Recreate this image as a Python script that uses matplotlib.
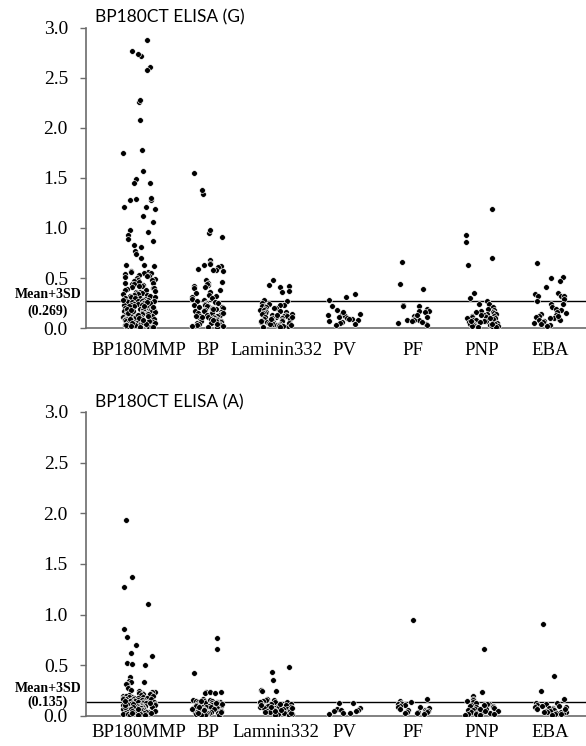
import matplotlib.pyplot as plt
import numpy as np

plt.rcParams["font.family"] = ["Liberation Serif", "DejaVu Serif"]

categories_g = ["BP180MMP", "BP", "Laminin332", "PV", "PF", "PNP", "EBA"]
categories_a = ["BP180MMP", "BP", "Lamnin332", "PV", "PF", "PNP", "EBA"]
cutoff_g = 0.269
cutoff_a = 0.135

# ---- BP180CT ELISA (G) values ----
g_bp180mmp = [
    2.88, 2.72, 2.74, 2.77, 2.61, 2.58, 2.26, 2.28, 2.08, 1.75, 1.78, 1.57,
    1.49, 1.45, 1.45, 1.29, 1.28, 1.19, 1.21, 1.28, 1.30, 1.21, 1.12, 1.06,
    0.98, 0.96, 0.93, 0.87, 0.89, 0.83, 0.81, 0.77, 0.74, 0.70, 0.63, 0.63,
    0.62, 0.57, 0.56, 0.56,
    0.55, 0.55, 0.54, 0.53, 0.52, 0.52, 0.51, 0.50, 0.49, 0.48, 0.48, 0.47,
    0.46, 0.45, 0.45, 0.44, 0.44, 0.43, 0.42, 0.42, 0.41, 0.40, 0.40, 0.39,
    0.38, 0.38, 0.37, 0.36, 0.36, 0.35, 0.35, 0.34, 0.34, 0.33, 0.33, 0.32,
    0.32, 0.31, 0.31, 0.30, 0.30, 0.30,
    0.29, 0.285, 0.28, 0.28, 0.275, 0.27, 0.27, 0.265, 0.26, 0.26, 0.255,
    0.25, 0.25, 0.245, 0.24, 0.24, 0.235, 0.23, 0.23, 0.225, 0.22, 0.22,
    0.215, 0.21, 0.21, 0.205, 0.20, 0.20, 0.195, 0.19, 0.19, 0.185, 0.18,
    0.18, 0.175, 0.17, 0.17, 0.165, 0.16, 0.16, 0.155, 0.15, 0.15, 0.145,
    0.14, 0.14, 0.135, 0.13, 0.13, 0.125, 0.12, 0.12, 0.115, 0.11, 0.11,
    0.105, 0.10, 0.10, 0.095, 0.09, 0.09, 0.085, 0.08, 0.08, 0.075, 0.07,
    0.07, 0.065, 0.06, 0.06, 0.055, 0.05, 0.05, 0.045, 0.04, 0.04, 0.035,
    0.03, 0.03, 0.025, 0.02, 0.02, 0.015, 0.01, 0.01, 0.005,
    0.27, 0.23, 0.19, 0.15, 0.11, 0.07, 0.03, 0.25, 0.21, 0.17, 0.13, 0.09,
    0.05, 0.02, 0.26, 0.22, 0.18, 0.14, 0.10, 0.06, 0.04, 0.28, 0.12, 0.08,
]
g_bp = [
    1.55, 1.34, 1.38, 0.91, 0.95, 0.98, 0.68, 0.65, 0.64, 0.63, 0.62, 0.61,
    0.59, 0.58, 0.58, 0.57, 0.48, 0.46, 0.45, 0.43, 0.44, 0.42, 0.40, 0.41,
    0.38, 0.36, 0.35, 0.33, 0.32, 0.31, 0.30, 0.29, 0.28,
    0.27, 0.265, 0.26, 0.25, 0.25, 0.245, 0.24, 0.23, 0.23, 0.225, 0.22,
    0.21, 0.21, 0.20, 0.20, 0.19, 0.19, 0.185, 0.18, 0.17, 0.17, 0.165,
    0.16, 0.15, 0.15, 0.145, 0.14, 0.13, 0.13, 0.125, 0.12, 0.11, 0.11,
    0.105, 0.10, 0.09, 0.09, 0.085, 0.08, 0.07, 0.07, 0.065, 0.06, 0.05,
    0.05, 0.045, 0.04, 0.03, 0.03, 0.025, 0.02, 0.01, 0.01, 0.19, 0.15,
    0.11, 0.07, 0.04, 0.12, 0.08,
]
g_laminin332 = [
    0.48, 0.43, 0.42, 0.41, 0.37, 0.36, 0.28, 0.27, 0.25,
    0.24, 0.235, 0.23, 0.22, 0.22, 0.21, 0.20, 0.20, 0.19, 0.18, 0.18,
    0.17, 0.16, 0.16, 0.155, 0.15, 0.14, 0.14, 0.135, 0.13, 0.12, 0.12,
    0.115, 0.11, 0.10, 0.10, 0.095, 0.09, 0.085, 0.08, 0.08, 0.075, 0.07,
    0.065, 0.06, 0.06, 0.055, 0.05, 0.045, 0.04, 0.04, 0.035, 0.03, 0.025,
    0.02, 0.02, 0.015, 0.01, 0.13, 0.11, 0.09, 0.07, 0.05, 0.03,
]
g_pv = [0.34, 0.31, 0.28, 0.22, 0.18, 0.14, 0.14, 0.13, 0.12, 0.10, 0.09,
        0.09, 0.07, 0.06, 0.05, 0.03, 0.16, 0.11, 0.08, 0.04]
g_pf = [0.66, 0.44, 0.39, 0.23, 0.22, 0.22, 0.19, 0.17, 0.17, 0.16, 0.12,
        0.11, 0.09, 0.08, 0.08, 0.08, 0.07, 0.05, 0.04, 0.03, 0.13, 0.06]
g_pnp = [
    1.19, 0.93, 0.86, 0.70, 0.63, 0.35, 0.30, 0.27, 0.24, 0.24, 0.21, 0.19,
    0.18, 0.17, 0.16, 0.16, 0.15, 0.14, 0.14, 0.13, 0.12, 0.12, 0.11, 0.11,
    0.10, 0.10, 0.09, 0.09, 0.08, 0.08, 0.07, 0.07, 0.06, 0.06, 0.055, 0.05,
    0.05, 0.045, 0.04, 0.04, 0.035, 0.03, 0.03, 0.025, 0.02, 0.02, 0.015,
    0.01, 0.13, 0.07, 0.04, 0.10,
]
g_eba = [
    0.65, 0.51, 0.50, 0.47, 0.41, 0.35, 0.34, 0.32, 0.32, 0.32, 0.29, 0.27,
    0.24, 0.24, 0.21, 0.19, 0.18, 0.16, 0.15, 0.14, 0.13, 0.12, 0.11, 0.10,
    0.09, 0.08, 0.08, 0.07, 0.06, 0.05, 0.04, 0.03, 0.02, 0.10, 0.12,
]

# ---- BP180CT ELISA (A) values ----
a_bp180mmp = [
    1.93, 1.37, 1.27, 1.11, 0.86, 0.78, 0.70, 0.62, 0.59, 0.52, 0.51, 0.50,
    0.38, 0.35, 0.34, 0.34, 0.32, 0.32, 0.28, 0.23, 0.25, 0.26, 0.24, 0.22,
    0.24, 0.23, 0.22, 0.22, 0.21, 0.21, 0.20, 0.20, 0.20, 0.19, 0.19, 0.19,
    0.18, 0.18, 0.18, 0.175, 0.17, 0.17, 0.165, 0.16, 0.16, 0.16, 0.155,
    0.15, 0.15, 0.15, 0.145, 0.14, 0.14, 0.14, 0.135, 0.13, 0.13, 0.13,
    0.125, 0.12, 0.12, 0.12, 0.115, 0.11, 0.11, 0.11, 0.105, 0.10, 0.10,
    0.10, 0.095, 0.09, 0.09, 0.09, 0.085, 0.08, 0.08, 0.08, 0.075, 0.07,
    0.07, 0.07, 0.065, 0.06, 0.06, 0.06, 0.055, 0.05, 0.05, 0.05, 0.045,
    0.04, 0.04, 0.04, 0.035, 0.03, 0.03, 0.03, 0.025, 0.02, 0.02, 0.02,
    0.015, 0.01, 0.01, 0.005, 0.17, 0.13, 0.09, 0.05, 0.11, 0.07, 0.03,
    0.15,
]
a_bp = [
    0.77, 0.66, 0.42, 0.24, 0.24, 0.24, 0.23, 0.24, 0.23,
    0.17, 0.16, 0.16, 0.15, 0.15, 0.15, 0.14, 0.14, 0.14, 0.13, 0.13, 0.13,
    0.12, 0.12, 0.12, 0.11, 0.11, 0.11, 0.10, 0.10, 0.10, 0.09, 0.09, 0.09,
    0.08, 0.08, 0.08, 0.07, 0.07, 0.07, 0.06, 0.06, 0.06, 0.05, 0.05, 0.05,
    0.04, 0.04, 0.04, 0.03, 0.03, 0.03, 0.02, 0.02, 0.02, 0.01, 0.01, 0.005,
    0.125, 0.095, 0.065, 0.035, 0.145, 0.115, 0.085, 0.055, 0.025,
]
a_laminin332 = [
    0.48, 0.43, 0.36, 0.26, 0.25, 0.25,
    0.17, 0.16, 0.16, 0.15, 0.14, 0.14, 0.13, 0.13, 0.12, 0.12, 0.11, 0.11,
    0.10, 0.10, 0.10, 0.09, 0.09, 0.08, 0.08, 0.08, 0.07, 0.07, 0.06, 0.06,
    0.06, 0.05, 0.05, 0.04, 0.04, 0.04, 0.03, 0.03, 0.02, 0.02, 0.01, 0.01,
    0.115, 0.085, 0.055, 0.025, 0.135, 0.105, 0.075, 0.045,
]
a_pv = [0.13, 0.13, 0.08, 0.07, 0.06, 0.06, 0.05, 0.03, 0.03, 0.02, 0.05]
a_pf = [0.95, 0.17, 0.15, 0.14, 0.13, 0.12, 0.12, 0.11, 0.10, 0.09, 0.08,
        0.07, 0.06, 0.06, 0.05, 0.05, 0.04, 0.04, 0.04, 0.03, 0.03, 0.02, 0.09]
a_pnp = [0.66, 0.24, 0.20, 0.17, 0.16, 0.15, 0.14, 0.13, 0.12, 0.12, 0.11,
         0.10, 0.10, 0.09, 0.09, 0.08, 0.08, 0.07, 0.07, 0.06, 0.06, 0.05,
         0.05, 0.04, 0.04, 0.03, 0.03, 0.02, 0.02, 0.01, 0.01, 0.11, 0.07,
         0.045, 0.015]
a_eba = [0.91, 0.39, 0.25, 0.17, 0.13, 0.13, 0.12, 0.11, 0.10, 0.10, 0.09,
         0.09, 0.08, 0.08, 0.07, 0.07, 0.06, 0.06, 0.05, 0.05, 0.04, 0.04,
         0.04, 0.03, 0.03, 0.02, 0.02, 0.01, 0.065, 0.035]

groups_g = [g_bp180mmp, g_bp, g_laminin332, g_pv, g_pf, g_pnp, g_eba]
groups_a = [a_bp180mmp, a_bp, a_laminin332, a_pv, a_pf, a_pnp, a_eba]


def spread(n, seed):
    # deterministic horizontal scatter within a category column
    k = np.arange(1, n + 1)
    h = np.sin(k * 12.9898 + seed * 78.233) * 43758.5453
    return (h - np.floor(h) - 0.5) * 0.48


def draw_panel(ax, groups, labels, cutoff, seed0, xpad):
    for i, vals in enumerate(groups):
        vals = np.asarray(vals)
        x = (i + 1) + spread(len(vals), seed0 + i)
        ax.scatter(x, vals, s=17, color="black", edgecolor="white",
                   linewidth=0.45, zorder=3)
    ax.axhline(cutoff, color="black", linewidth=1.0, zorder=2)
    ax.set_xlim(0.226, 7.525)
    ax.set_ylim(0, 3.0)
    ticks = np.arange(0, 3.01, 0.5)
    ax.set_yticks(ticks)
    ax.set_yticklabels([f"{v:.1f}" for v in ticks])
    ax.set_xticks(range(1, 8))
    ax.set_xticklabels(labels)
    for side in ("top", "right"):
        ax.spines[side].set_visible(False)
    for side in ("left", "bottom"):
        ax.spines[side].set_color("#6b6b6b")
        ax.spines[side].set_linewidth(1.2)
    ax.tick_params(axis="y", length=4, width=1.0, color="#6b6b6b",
                   labelsize=14, pad=9)
    ax.tick_params(axis="x", length=0, labelsize=13.5, pad=xpad)
    ax.set_facecolor("none")


fig = plt.figure(figsize=(5.86, 7.46), dpi=100)
W, H = 586, 746

ax_g = fig.add_axes([86 / W, 1 - 328 / H, 500 / W, 300 / H])
draw_panel(ax_g, groups_g, categories_g, cutoff_g, 1, 10)
ax_a = fig.add_axes([86 / W, 1 - 716 / H, 500 / W, 304 / H])
draw_panel(ax_a, groups_a, categories_a, cutoff_a, 20, 6)

fig.text(95 / W, 1 - 17 / H, "BP180CT ELISA (G)", family="Lato", fontsize=12.5,
         ha="left", va="center")
fig.text(95 / W, 1 - 402 / H, "BP180CT ELISA (A)", family="Lato", fontsize=12.5,
         ha="left", va="center")

fig.text(48 / W, 1 - 295 / H, "Mean+3SD", fontsize=10, weight="bold",
         ha="center", va="center")
fig.text(48 / W, 1 - 311 / H, "(0.269)", fontsize=10, weight="bold",
         ha="center", va="center")
fig.text(48 / W, 1 - 688 / H, "Mean+3SD", fontsize=10, weight="bold",
         ha="center", va="center")
fig.text(48 / W, 1 - 702 / H, "(0.135)", fontsize=10, weight="bold",
         ha="center", va="center")

fig.savefig("out.png", dpi=100)
plt.close(fig)
